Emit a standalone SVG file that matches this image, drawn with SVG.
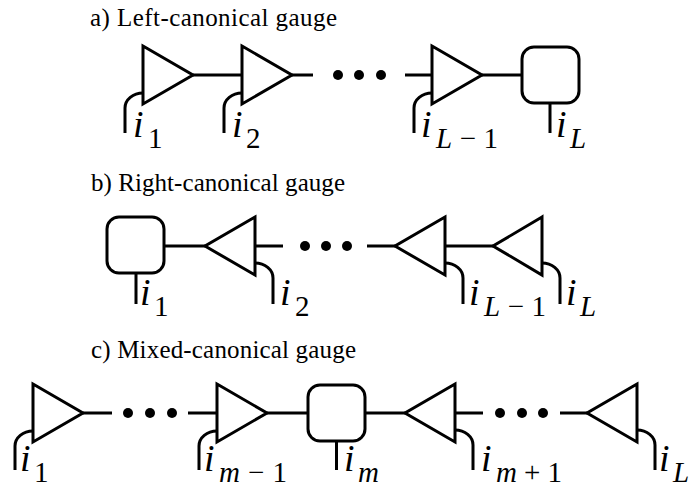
<svg xmlns="http://www.w3.org/2000/svg" width="696" height="490" viewBox="0 0 696 490">
<style>
.title{font-family:"Liberation Serif","Times New Roman",serif;font-size:25px;fill:#000}
.i{font-family:"Liberation Serif","Times New Roman",serif;font-style:italic;font-size:38px;fill:#000}
.s{font-family:"Liberation Serif","Times New Roman",serif;font-style:italic;font-size:29px;fill:#000}
.n{font-style:normal}
.shape{fill:#fff;stroke:#000;stroke-width:3;stroke-linejoin:miter}
.w{fill:none;stroke:#000;stroke-width:3}
.dot{fill:#000}
</style>
<rect width="696" height="490" fill="#fff"/>
<text class="title" x="90" y="26" textLength="247">a) Left-canonical gauge</text>
<text class="title" x="91" y="191" textLength="254">b) Right-canonical gauge</text>
<text class="title" x="91" y="358" textLength="265">c) Mixed-canonical gauge</text>

<g id="connectors">
<!-- row a -->
<path class="w" d="M193,75H242M292,75H313M405,75H432M482,75H522"/>
<path class="w" d="M143,93A18,15 0 0 0 125,108V133M242,93A18,15 0 0 0 224,108V133M432,93A18,15 0 0 0 414,108V133M550,103V133"/>
<circle class="dot" cx="338" cy="75" r="5"/><circle class="dot" cx="359" cy="75" r="5"/><circle class="dot" cx="381" cy="75" r="5"/>
<!-- row b -->
<path class="w" d="M164,246H205M255,246H283M367,246H395M445,246H493"/>
<path class="w" d="M136,273V304M255,263A18,15 0 0 1 273,278V304M445,263A18,15 0 0 1 463,278V304M542,263A18,15 0 0 1 560,278V304"/>
<circle class="dot" cx="305" cy="246" r="5"/><circle class="dot" cx="326" cy="246" r="5"/><circle class="dot" cx="347" cy="246" r="5"/>
<!-- row c -->
<path class="w" d="M83,413H112M188,413H217M267,413H308M365,413H405M455,413H483M560,413H587"/>
<path class="w" d="M33,431A18,15 0 0 0 15,446V470M217,431A18,15 0 0 0 199,446V470M336.5,441V470M455,430A18,15 0 0 1 473,445V470M637,430A18,15 0 0 1 655,445V470"/>
<circle class="dot" cx="128" cy="413" r="5"/><circle class="dot" cx="150" cy="413" r="5"/><circle class="dot" cx="172" cy="413" r="5"/>
<circle class="dot" cx="500" cy="413" r="5"/><circle class="dot" cx="522" cy="413" r="5"/><circle class="dot" cx="543" cy="413" r="5"/>
</g>

<g id="a-A1"><polygon class="shape" points="143,46 193,75 143,104"/><text class="i" x="133" y="137">i</text><text class="s n" x="148" y="148">1</text></g>
<g id="a-A2"><polygon class="shape" points="242,46 292,75 242,104"/><text class="i" x="232" y="137">i</text><text class="s n" x="246" y="148">2</text></g>
<g id="a-AL1"><polygon class="shape" points="432,46 482,75 432,104"/><text class="i" x="421" y="137">i</text><text class="s" x="436" y="148" textLength="62">L<tspan class="n">−1</tspan></text></g>
<g id="a-C"><rect class="shape" x="522" y="47" width="57" height="56" rx="12"/><text class="i" x="556" y="137">i</text><text class="s" x="570" y="148">L</text></g>

<g id="b-C"><rect class="shape" x="107" y="217" width="57" height="56" rx="12"/><text class="i" x="140" y="305">i</text><text class="s n" x="154" y="316">1</text></g>
<g id="b-B2"><polygon class="shape" points="255,217 205,246 255,275"/><text class="i" x="280" y="305">i</text><text class="s n" x="295" y="316">2</text></g>
<g id="b-BL1"><polygon class="shape" points="445,217 395,246 445,275"/><text class="i" x="469" y="305">i</text><text class="s" x="484" y="316" textLength="62">L<tspan class="n">−1</tspan></text></g>
<g id="b-BL"><polygon class="shape" points="542,217 493,246 542,275"/><text class="i" x="566" y="305">i</text><text class="s" x="580" y="316">L</text></g>

<g id="c-A1"><polygon class="shape" points="33,384 83,413 33,442"/><text class="i" x="20" y="471">i</text><text class="s n" x="34" y="482">1</text></g>
<g id="c-Am1"><polygon class="shape" points="217,384 267,413 217,442"/><text class="i" x="204" y="471">i</text><text class="s" x="219" y="482" textLength="68">m<tspan class="n">−1</tspan></text></g>
<g id="c-C"><rect class="shape" x="308" y="385" width="57" height="56" rx="12"/><text class="i" x="344" y="471">i</text><text class="s" x="358" y="482">m</text></g>
<g id="c-Bm1"><polygon class="shape" points="455,384 405,413 455,442"/><text class="i" x="481" y="471">i</text><text class="s" x="496" y="482" textLength="66">m<tspan class="n">+1</tspan></text></g>
<g id="c-BL"><polygon class="shape" points="637,384 587,413 637,442"/><text class="i" x="659" y="471">i</text><text class="s" x="673" y="482">L</text></g>
</svg>
